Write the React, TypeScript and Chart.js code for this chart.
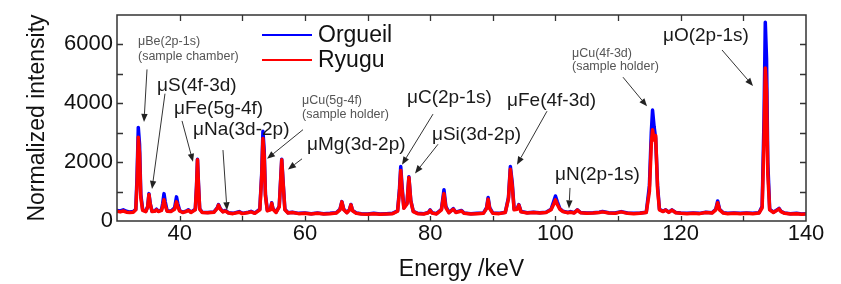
import React, { useEffect, useRef } from "react";
import { Chart, registerables } from "chart.js";

Chart.register(...registerables);

// Energy grid (keV)
const energies = [
  30.0, 30.5, 31.0, 31.5, 32.0, 32.6, 33.0, 33.2, 33.4, 33.6, 33.8, 34.1, 34.6, 34.9, 35.1, 35.3, 35.6,
  36.0, 36.3, 36.6, 37.1, 37.3, 37.5, 37.7, 38.0, 38.6, 39.2, 39.5, 39.7, 40.0, 40.5, 41.0, 41.4, 41.8,
  42.5, 42.7, 42.85, 43.0, 43.2, 43.6, 44.5, 45.5, 46.0, 46.2, 46.5, 46.9, 47.3, 47.8, 48.5, 49.5, 50.0,
  51.0, 51.4, 52.0, 52.8, 53.1, 53.3, 53.5, 53.7, 54.0, 54.5, 54.7, 54.9, 55.4, 55.9, 56.15, 56.3, 56.5,
  56.8, 57.3, 58.0, 59.0, 60.0, 61.0, 62.0, 63.0, 64.0, 65.0, 65.6, 65.9, 66.2, 66.7, 67.1, 67.35, 67.6,
  68.2, 69.0, 70.0, 71.0, 72.0, 73.0, 74.0, 74.8, 75.1, 75.3, 75.5, 75.8, 76.3, 76.6, 76.9, 77.3, 78.0,
  79.0, 79.7, 80.0, 80.3, 81.0, 81.8, 82.2, 82.5, 83.0, 83.7, 84.1, 85.0, 85.4, 86.5, 87.5, 88.5, 89.0,
  89.25, 89.5, 90.0, 91.0, 92.0, 92.5, 92.8, 93.1, 93.4, 93.9, 94.15, 94.5, 95.5, 96.5, 97.5, 98.5, 99.3,
  99.7, 100.0, 100.3, 100.7, 101.2, 102.0, 102.4, 103.0, 103.5, 104.0, 105.0, 106.0, 107.0, 107.5, 108.5,
  109.5, 110.5, 111.5, 112.5, 113.5, 114.5, 115.0, 115.3, 115.5, 115.75, 116.0, 116.3, 116.6, 117.2, 117.6,
  118.1, 118.6, 119.2, 120.0, 121.0, 122.0, 123.0, 124.0, 125.0, 125.6, 125.9, 126.2, 126.8, 127.5, 128.5,
  129.5, 130.5, 131.5, 132.5, 133.0, 133.3, 133.5, 133.7, 133.9, 134.2, 134.8, 135.4, 135.7, 136.0, 136.6,
  137.5, 138.5, 139.3, 140.0,
];

// Normalized intensity, Orgueil
const orgueil = [
  360, 340, 380, 330, 310, 320, 400, 1500, 3180, 2600, 900, 380, 330, 500, 930, 600, 330,
  340, 400, 330, 380, 600, 930, 650, 350, 330, 450, 820, 600, 360, 300, 330, 380, 300,
  400, 1200, 2100, 1300, 420, 300, 290, 310, 450, 560, 420, 320, 360, 280, 260, 320, 260,
  300, 330, 270, 400, 1600, 3050, 2400, 900, 360, 400, 620, 420, 300, 500, 1500, 2100, 1400,
  400, 280, 300, 260, 270, 250, 270, 250, 260, 280, 400, 660, 400, 290, 380, 560, 360,
  270, 250, 240, 260, 240, 250, 260, 350, 1100, 1850, 1200, 450, 600, 1500, 700, 330, 260,
  250, 290, 380, 280, 250, 400, 1060, 500, 290, 420, 300, 360, 270, 250, 260, 270, 450,
  800, 450, 270, 260, 300, 800, 1850, 1300, 400, 420, 560, 320, 280, 300, 280, 300, 400,
  650, 850, 650, 420, 330, 290, 320, 280, 380, 290, 270, 280, 300, 320, 280,
  270, 320, 270, 260, 270, 300, 1200, 3000, 3770, 3200, 2800, 1200, 400, 330, 380,
  300, 380, 290, 270, 260, 270, 260, 300, 280, 400, 680, 400, 280, 260, 270,
  260, 270, 260, 280, 500, 3500, 6750, 5500, 2000, 400, 300, 380, 430, 330, 270,
  250, 260, 240, 250,
];

// Normalized intensity, Ryugu
const ryugu = [
  330, 310, 340, 300, 290, 300, 380, 1300, 2850, 2300, 800, 360, 320, 480, 900, 580, 320,
  330, 380, 320, 360, 500, 720, 520, 330, 320, 400, 650, 500, 340, 290, 320, 360, 290,
  380, 1150, 2080, 1250, 400, 290, 280, 300, 430, 540, 400, 310, 340, 270, 250, 300, 250,
  290, 310, 260, 380, 1500, 2800, 2200, 850, 350, 380, 600, 400, 290, 480, 1450, 2080, 1350,
  380, 270, 290, 250, 260, 240, 260, 240, 250, 270, 380, 650, 380, 280, 370, 550, 350,
  260, 240, 230, 250, 230, 240, 250, 330, 1000, 1720, 1100, 430, 580, 1480, 680, 320, 250,
  240, 280, 360, 270, 240, 380, 930, 450, 280, 400, 290, 340, 260, 240, 250, 260, 420,
  740, 420, 260, 250, 290, 750, 1760, 1200, 380, 400, 540, 310, 270, 290, 270, 290, 380,
  560, 720, 560, 400, 320, 280, 300, 270, 370, 280, 260, 270, 290, 310, 270,
  260, 310, 260, 250, 260, 290, 1000, 2600, 3100, 2750, 2900, 1100, 380, 320, 370,
  290, 370, 280, 260, 250, 260, 250, 290, 270, 380, 620, 380, 270, 250, 260,
  250, 260, 250, 270, 450, 2800, 5200, 4400, 1600, 380, 290, 370, 410, 320, 260,
  240, 250, 230, 240,
];

const seriesNames = ["Orgueil", "Ryugu"];
const seriesColors = ["#0000ff", "#ff0000"];

const xRange = [30, 140];
const yRange = [0, 7000];

// Annotation labels in data units (keV, intensity)
const labelTexts = [
  "μBe(2p-1s)", "(sample chamber)", "μS(4f-3d)", "μFe(5g-4f)", "μNa(3d-2p)",
  "μCu(5g-4f)", "(sample holder)", "μMg(3d-2p)", "μC(2p-1s)", "μSi(3d-2p)",
  "μFe(4f-3d)", "μN(2p-1s)", "μCu(4f-3d)", "(sample holder)", "μO(2p-1s)",
];
const labelX = [33.35, 33.35, 36.39, 39.1, 42.13, 59.54, 59.54, 60.33, 76.3, 80.29, 92.27, 99.93, 102.64, 102.64, 117.17];
const labelY = [6108, 5580, 4590, 3830, 3104, 4094, 3632, 2575, 4193, 2939, 4094, 1585, 5679, 5250, 6307];
const labelSmall = [true, true, false, false, false, true, true, false, false, false, false, false, true, true, false];

// Arrows: start (x1,y1) -> head (x2,y2), data units
const arrowX1 = [34.79, 37.66, 40.38, 46.92, 59.7, 59.54, 80.45, 81.25, 98.65, 102.32, 110.78, 126.59];
const arrowY1 = [5151, 4326, 3401, 2410, 3104, 2113, 3632, 2608, 3731, 1123, 4887, 5811];
const arrowX2 = [34.31, 35.59, 42.13, 47.56, 53.95, 57.3, 75.5, 77.58, 93.86, 102.16, 114.62, 131.54];
const arrowY2 = [3368, 1090, 2014, 363, 2113, 1750, 1915, 1618, 1915, 429, 3896, 4590];

const FONT = "'Liberation Sans', Arial, Helvetica, sans-serif";

const overlayPlugin = {
  id: "overlay",
  afterDraw(chart: any) {
    const { ctx, chartArea: a, scales } = chart;
    const xs = scales.x;
    const ys = scales.y;
    ctx.save();
    // frame
    ctx.strokeStyle = "#333";
    ctx.lineWidth = 1.5;
    ctx.strokeRect(a.left, a.top, a.right - a.left, a.bottom - a.top);
    // inward ticks
    ctx.lineWidth = 1.3;
    ctx.beginPath();
    for (let v = xRange[0] + 10; v < xRange[1]; v += 10) {
      const px = Math.round(xs.getPixelForValue(v)) + 0.5;
      ctx.moveTo(px, a.bottom);
      ctx.lineTo(px, a.bottom - 5);
      ctx.moveTo(px, a.top);
      ctx.lineTo(px, a.top + 6);
    }
    for (let v = yRange[0] + 1000; v < yRange[1]; v += 1000) {
      const py = Math.round(ys.getPixelForValue(v)) + 0.5;
      ctx.moveTo(a.left, py);
      ctx.lineTo(a.left + 6, py);
      ctx.moveTo(a.right, py);
      ctx.lineTo(a.right - 6, py);
    }
    ctx.stroke();

    // legend
    const legendY = [35, 60];
    seriesNames.forEach((name, i) => {
      ctx.strokeStyle = seriesColors[i];
      ctx.lineWidth = 2;
      ctx.beginPath();
      ctx.moveTo(262, legendY[i]);
      ctx.lineTo(312, legendY[i]);
      ctx.stroke();
      ctx.fillStyle = "#111";
      ctx.font = `23px ${FONT}`;
      ctx.textAlign = "left";
      ctx.textBaseline = "middle";
      ctx.fillText(name, 318, legendY[i] + 1);
    });

    // labels
    labelTexts.forEach((t, i) => {
      const px = xs.getPixelForValue(labelX[i]);
      const py = ys.getPixelForValue(labelY[i]);
      ctx.font = labelSmall[i] ? `12.5px ${FONT}` : `19px ${FONT}`;
      ctx.fillStyle = labelSmall[i] ? "#555" : "#1a1a1a";
      ctx.textAlign = "left";
      ctx.textBaseline = "middle";
      ctx.fillText(t, px, py);
    });

    // arrows
    ctx.strokeStyle = "#333";
    ctx.fillStyle = "#222";
    ctx.lineWidth = 1;
    arrowX1.forEach((_, i) => {
      const x1 = xs.getPixelForValue(arrowX1[i]);
      const y1 = ys.getPixelForValue(arrowY1[i]);
      const x2 = xs.getPixelForValue(arrowX2[i]);
      const y2 = ys.getPixelForValue(arrowY2[i]);
      const ang = Math.atan2(y2 - y1, x2 - x1);
      const hl = 8;
      const hw = 3.2;
      const bx = x2 - hl * Math.cos(ang);
      const by = y2 - hl * Math.sin(ang);
      ctx.beginPath();
      ctx.moveTo(x1, y1);
      ctx.lineTo(bx, by);
      ctx.stroke();
      ctx.beginPath();
      ctx.moveTo(x2, y2);
      ctx.lineTo(bx + hw * Math.sin(ang), by - hw * Math.cos(ang));
      ctx.lineTo(bx - hw * Math.sin(ang), by + hw * Math.cos(ang));
      ctx.closePath();
      ctx.fill();
    });
    ctx.restore();
  },
};

export default function App() {
  const canvasRef = useRef<HTMLCanvasElement | null>(null);

  useEffect(() => {
    const canvas = canvasRef.current;
    if (!canvas) return;
    const chart = new Chart(canvas, {
      type: "line",
      data: {
        datasets: [
          {
            label: seriesNames[0],
            data: energies.map((e, i) => ({ x: e, y: orgueil[i] })),
            borderColor: seriesColors[0],
            borderWidth: 3.5,
            pointRadius: 0,
            tension: 0,
            order: 2,
          },
          {
            label: seriesNames[1],
            data: energies.map((e, i) => ({ x: e, y: ryugu[i] })),
            borderColor: seriesColors[1],
            borderWidth: 3.5,
            pointRadius: 0,
            tension: 0,
            order: 1,
          },
        ],
      },
      options: {
        animation: false,
        responsive: false,
        devicePixelRatio: 1,
        layout: { padding: { top: 9, right: 35, left: 0, bottom: 0 } },
        plugins: { legend: { display: false }, tooltip: { enabled: false } },
        elements: { line: { borderJoinStyle: "round", borderCapStyle: "round" } },
        scales: {
          x: {
            type: "linear",
            min: xRange[0],
            max: xRange[1],
            afterFit: (s: any) => {
              s.height = 63;
            },
            grid: { display: false, drawTicks: false },
            border: { display: false },
            ticks: {
              stepSize: 10,
              padding: 2,
              color: "#111",
              font: { family: FONT, size: 22, lineHeight: 1 },
              maxRotation: 0,
              autoSkip: false,
              callback: (v: any) => (Number(v) % 20 === 0 ? String(v) : ""),
            },
            title: {
              display: true,
              text: "Energy /keV",
              color: "#111",
              font: { family: FONT, size: 23, lineHeight: 1 },
              padding: { top: 0, bottom: 2.5 },
            },
          },
          y: {
            type: "linear",
            min: yRange[0],
            max: yRange[1],
            afterFit: (s: any) => {
              s.width = 117;
            },
            grid: { display: false, drawTicks: false },
            border: { display: false },
            ticks: {
              stepSize: 1000,
              padding: 4,
              color: "#111",
              font: { family: FONT, size: 22, lineHeight: 1 },
              autoSkip: false,
              callback: (v: any) => (Number(v) % 2000 === 0 && Number(v) < 7000 ? String(v) : ""),
            },
            title: {
              display: true,
              text: "Normalized intensity",
              color: "#111",
              font: { family: FONT, size: 23, lineHeight: 1 },
              padding: { top: 26, bottom: 0 },
            },
          },
        },
      },
      plugins: [overlayPlugin],
    });
    return () => chart.destroy();
  }, []);

  return (
    <div style={{ position: "absolute", left: 0, top: 0, width: 841, height: 284, background: "#fff" }}>
      <canvas ref={canvasRef} width={841} height={284} style={{ width: 841, height: 284, display: "block" }} />
    </div>
  );
}
